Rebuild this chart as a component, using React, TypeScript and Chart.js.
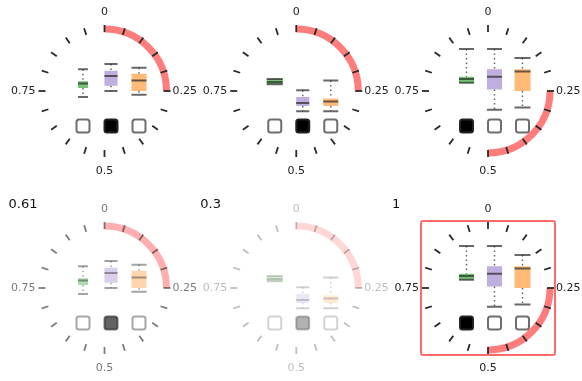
import React, { useEffect, useRef } from 'react';
import { Chart, registerables } from 'chart.js';

Chart.register(...registerables);

// ---- data ----
const glyphCols = [0, 1, 2, 0, 1, 2];
const glyphRows = [0, 0, 0, 1, 1, 1];
const glyphOpacity = [1, 1, 1, 0.61, 0.3, 1];
const glyphTitles = ['', '', '', '0.61', '0.3', '1'];
const glyphHighlighted = [false, false, false, false, false, true];
const arcStart = [0, 0, 0.25, 0, 0, 0.25];
const arcEnd = [0.25, 0.25, 0.5, 0.25, 0.25, 0.5];
const selectedSquare = [1, 1, 0, 1, 1, 0];

const clockTickCount = 20;
const clockLabels = ['0', '0.25', '0.5', '0.75'];

// box stats: [min, q1, median, q3, max] per glyph
const greenStats = [
  [0.32, 0.44, 0.5, 0.53, 0.69],
  [0.49, 0.49, 0.52, 0.56, 0.56],
  [0.51, 0.51, 0.56, 0.59, 0.96],
  [0.32, 0.44, 0.5, 0.53, 0.69],
  [0.49, 0.49, 0.52, 0.56, 0.56],
  [0.51, 0.51, 0.56, 0.59, 0.96],
];
const purpleStats = [
  [0.4, 0.47, 0.6, 0.67, 0.76],
  [0.13, 0.2, 0.24, 0.32, 0.41],
  [0.15, 0.42, 0.59, 0.69, 0.96],
  [0.4, 0.47, 0.6, 0.67, 0.76],
  [0.13, 0.2, 0.24, 0.32, 0.41],
  [0.15, 0.42, 0.59, 0.69, 0.96],
];
const orangeStats = [
  [0.35, 0.4, 0.54, 0.63, 0.71],
  [0.13, 0.2, 0.26, 0.3, 0.54],
  [0.18, 0.4, 0.66, 0.69, 0.84],
  [0.35, 0.4, 0.54, 0.63, 0.71],
  [0.13, 0.2, 0.26, 0.3, 0.54],
  [0.18, 0.4, 0.66, 0.69, 0.84],
];
// relative box widths (sample size share)
const greenWidths = [0.62, 1.0, 0.94, 0.62, 1.0, 0.94];
const purpleWidths = [0.82, 0.82, 0.94, 0.82, 0.82, 0.94];
const orangeWidths = [0.94, 0.94, 1.0, 0.94, 0.94, 1.0];

const seriesStats = [greenStats, purpleStats, orangeStats];
const seriesWidths = [greenWidths, purpleWidths, orangeWidths];
const seriesColors = ['rgba(60,170,60,0.7)', 'rgba(150,120,200,0.6)', 'rgba(255,140,30,0.6)'];

// ---- layout constants ----
const COL_OFFSETS = [-21.5, 6.5, 34.5];
const R_IN = 59;
const R_OUT = 66;
const ARC_R = 62;
const ARC_W = 7;
const MAX_BOX_W = 16;

const toAngle = (v: number) => -Math.PI / 2 + v * Math.PI * 2;

const glyphPlugin = {
  id: 'clockGlyphs',
  afterDatasetsDraw(chart: any) {
    const ctx: CanvasRenderingContext2D = chart.ctx;
    const xs = chart.scales.x;
    const ys = chart.scales.y;
    for (let i = 0; i < glyphCols.length; i++) {
      const cx = xs.getPixelForValue(glyphCols[i] + 0.5);
      const cy = ys.getPixelForValue(glyphRows[i] + 0.5);
      const valY = (v: number) => cy + 30 - 75 * v;

      ctx.save();
      ctx.globalAlpha = glyphOpacity[i];

      if (glyphHighlighted[i]) {
        ctx.beginPath();
        const h = 67;
        if ((ctx as any).roundRect) (ctx as any).roundRect(cx - h, cy - h, 2 * h, 2 * h, 2);
        else ctx.rect(cx - h, cy - h, 2 * h, 2 * h);
        ctx.strokeStyle = 'rgba(255,80,80,0.85)';
        ctx.lineWidth = 2;
        ctx.stroke();
      }

      // arc
      ctx.beginPath();
      ctx.arc(cx, cy, ARC_R, toAngle(arcStart[i]), toAngle(arcEnd[i]));
      ctx.lineWidth = ARC_W;
      ctx.lineCap = 'butt';
      ctx.strokeStyle = 'rgba(255,95,95,0.82)';
      ctx.stroke();

      // ticks
      ctx.strokeStyle = '#2a2a2a';
      ctx.lineWidth = 1.8;
      for (let k = 0; k < clockTickCount; k++) {
        const a = toAngle(k / clockTickCount);
        ctx.beginPath();
        ctx.moveTo(cx + Math.cos(a) * R_IN, cy + Math.sin(a) * R_IN);
        ctx.lineTo(cx + Math.cos(a) * R_OUT, cy + Math.sin(a) * R_OUT);
        ctx.stroke();
      }

      // labels
      ctx.fillStyle = '#222';
      ctx.font = '11px "DejaVu Sans"';
      ctx.textBaseline = 'middle';
      ctx.textAlign = 'center';
      ctx.fillText(clockLabels[0], cx, cy - 79);
      ctx.fillText(clockLabels[2], cx, cy + 80);
      ctx.textAlign = 'left';
      ctx.fillText(clockLabels[1], cx + 68, cy);
      ctx.textAlign = 'right';
      ctx.fillText(clockLabels[3], cx - 69, cy);

      // box plots
      for (let s = 0; s < 3; s++) {
        const [mn, q1, med, q3, mx] = seriesStats[s][i];
        const w = MAX_BOX_W * seriesWidths[s][i];
        const bx = cx + COL_OFFSETS[s];
        // whiskers dotted
        ctx.strokeStyle = 'rgba(0,0,0,0.6)';
        ctx.lineWidth = 1.5;
        ctx.setLineDash([1.5, 3]);
        ctx.beginPath();
        if (mx > q3) {
          ctx.moveTo(bx, valY(mx));
          ctx.lineTo(bx, valY(q3));
        }
        if (mn < q1) {
          ctx.moveTo(bx, valY(q1));
          ctx.lineTo(bx, valY(mn));
        }
        ctx.stroke();
        ctx.setLineDash([]);
        // box
        ctx.fillStyle = seriesColors[s];
        ctx.fillRect(bx - w / 2, valY(q3), w, valY(q1) - valY(q3));
        // caps + median
        ctx.strokeStyle = 'rgba(40,40,40,0.7)';
        ctx.lineWidth = 2;
        ctx.beginPath();
        ctx.moveTo(bx - w / 2, valY(mx));
        ctx.lineTo(bx + w / 2, valY(mx));
        ctx.moveTo(bx - w / 2, valY(mn));
        ctx.lineTo(bx + w / 2, valY(mn));
        ctx.moveTo(bx - w / 2, valY(med));
        ctx.lineTo(bx + w / 2, valY(med));
        ctx.stroke();
      }

      // squares
      for (let s = 0; s < 3; s++) {
        const sx = cx + COL_OFFSETS[s];
        const sy = cy + 35;
        const sz = 13;
        ctx.beginPath();
        if ((ctx as any).roundRect) (ctx as any).roundRect(sx - sz / 2, sy - sz / 2, sz, sz, 2.5);
        else ctx.rect(sx - sz / 2, sy - sz / 2, sz, sz);
        if (selectedSquare[i] === s) {
          ctx.fillStyle = '#000';
          ctx.fill();
          ctx.strokeStyle = '#222';
        } else {
          ctx.fillStyle = '#fff';
          ctx.fill();
          ctx.strokeStyle = '#6e6e6e';
        }
        ctx.lineWidth = 2;
        ctx.stroke();
      }
      ctx.restore();

      if (glyphTitles[i]) {
        ctx.save();
        ctx.fillStyle = '#111';
        ctx.font = '13px "DejaVu Sans"';
        ctx.textAlign = 'left';
        ctx.textBaseline = 'middle';
        ctx.fillText(glyphTitles[i], cx - 96, cy - 83);
        ctx.restore();
      }
    }
  },
};

export default function App() {
  const ref = useRef<HTMLCanvasElement | null>(null);
  useEffect(() => {
    document.body.style.margin = '0';
    if (!ref.current) return;
    const chart = new Chart(ref.current, {
      type: 'scatter',
      data: {
        datasets: [
          {
            label: 'glyphs',
            data: glyphCols.map((c, i) => ({ x: c + 0.5, y: glyphRows[i] + 0.5 })),
            pointRadius: 0,
          },
        ],
      },
      options: {
        animation: false,
        responsive: false,
        devicePixelRatio: 1,
        layout: { padding: 0 },
        plugins: { legend: { display: false }, tooltip: { enabled: false } },
        scales: {
          x: { type: 'linear', display: false, min: 0.5 - 104.5 / 191.75, max: 0.5 - 104.5 / 191.75 + 582 / 191.75 },
          y: { type: 'linear', display: false, reverse: true, min: 0.5 - 91 / 197, max: 0.5 - 91 / 197 + 381 / 197 },
        },
      },
      plugins: [glyphPlugin],
    });
    return () => chart.destroy();
  }, []);
  return <canvas ref={ref} width={582} height={381} style={{ display: 'block' }} />;
}
